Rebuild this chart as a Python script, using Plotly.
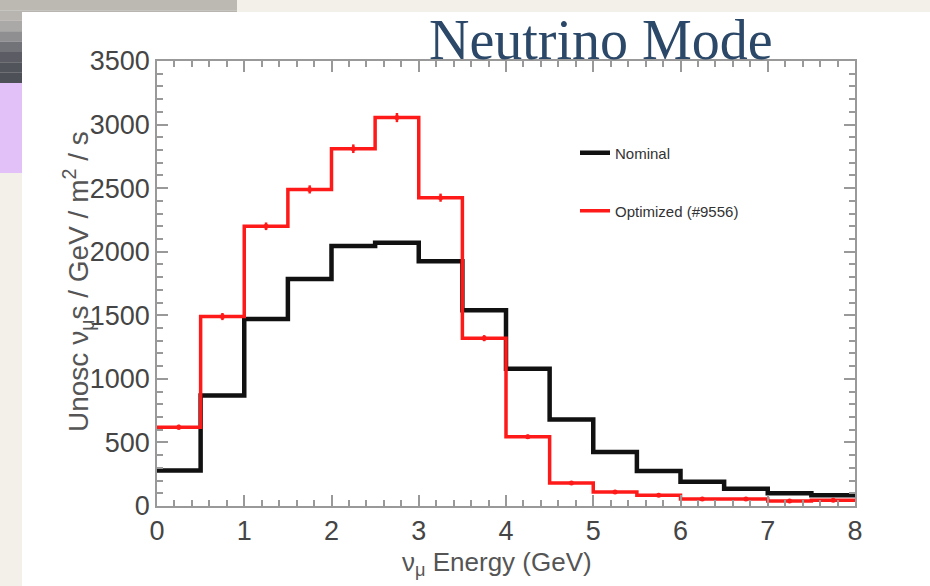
import plotly.graph_objects as go

# ---- data ----
bin_edges = [0, 0.5, 1, 1.5, 2, 2.5, 3, 3.5, 4, 4.5, 5, 5.5, 6, 6.5, 7, 7.5, 8]
nominal = [280, 870, 1470, 1785, 2045, 2070, 1925, 1540, 1080, 680, 425, 275, 190, 135, 100, 85]
optimized = [620, 1490, 2200, 2490, 2810, 3055, 2425, 1320, 545, 180, 110, 85, 55, 55, 40, 45]
optimized_err = [20, 28, 30, 32, 34, 36, 32, 24, 16, 10, 8, 7, 6, 6, 5, 5]
y_ticks = [0, 500, 1000, 1500, 2000, 2500, 3000, 3500]
x_ticks = [0, 1, 2, 3, 4, 5, 6, 7, 8]
series_names = ["Nominal", "Optimized (#9556)"]

centers = [(bin_edges[i] + bin_edges[i + 1]) / 2 for i in range(len(nominal))]

# plot area in pixels
L, R, T, B = 157, 855, 61, 506
W, H = 930, 586
def px(x):
    return (x - L) / (R - L)
def py(y):
    return (B - y) / (B - T)

fig = go.Figure()

fig.add_trace(go.Scatter(
    x=bin_edges, y=nominal + [nominal[-1]], mode="lines", line_shape="hv",
    line=dict(color="#111111", width=4.5), name=series_names[0], legend="legend"))
fig.add_trace(go.Scatter(
    x=bin_edges, y=optimized + [optimized[-1]], mode="lines", line_shape="hv",
    line=dict(color="#ff1a1a", width=3.5), name=series_names[1], legend="legend2"))
fig.add_trace(go.Scatter(
    x=centers, y=optimized, mode="markers", showlegend=False,
    marker=dict(color="#ff1a1a", size=5),
    error_y=dict(type="data", array=optimized_err, color="#ff1a1a", thickness=2.5, width=0)))

# background decorations
shapes = []
grad = ["#bcb9b3", "#b8b5b0", "#aaa9a7", "#8f8f91", "#727378", "#5c5d64", "#52545b", "#4e5058"]
n = len(grad)
for i, c in enumerate(grad):
    y0 = i * 83 / n
    y1 = (i + 1) * 83 / n
    shapes.append(dict(type="rect", xref="paper", yref="paper", x0=px(0), x1=px(237),
                       y0=py(y1), y1=py(y0), fillcolor=c, line=dict(width=0), layer="below"))
shapes.append(dict(type="rect", xref="paper", yref="paper", x0=px(0), x1=px(22),
                   y0=py(173), y1=py(83), fillcolor="#e2c0f8", line=dict(width=0), layer="below"))
shapes.append(dict(type="rect", xref="paper", yref="paper", x0=px(22), x1=px(930),
                   y0=py(586), y1=py(12), fillcolor="#ffffff", line=dict(width=0), layer="below"))

annotations = [
    dict(text="Neutrino Mode", xref="paper", yref="paper", x=px(601), y=py(40),
         showarrow=False, font=dict(family="Liberation Serif", size=56, color="#2b4868"),
         xanchor="center", yanchor="middle"),
    dict(text="Unosc ν<sub>μ</sub>s / GeV / m<sup>2</sup> / s", xref="paper", yref="paper",
         x=px(78), y=py(282), showarrow=False, textangle=-90,
         font=dict(family="Liberation Sans", size=28, color="#555555"),
         xanchor="center", yanchor="middle"),
    dict(text="ν<sub>μ</sub> Energy (GeV)", xref="paper", yref="paper",
         x=px(497), y=py(563), showarrow=False,
         font=dict(family="Liberation Sans", size=26, color="#555555"),
         xanchor="center", yanchor="middle"),
]

axis_common = dict(showgrid=False, zeroline=False, showline=True, linecolor="#999999",
                   linewidth=1.5, mirror="ticks", ticks="inside", tickcolor="#999999",
                   tickwidth=1.5, ticklen=11,
                   tickfont=dict(family="Liberation Sans", size=27, color="#454545"))

fig.update_layout(
    width=W, height=H,
    margin=dict(l=L, r=W - R, t=T, b=H - B),
    paper_bgcolor="#f3f0ea", plot_bgcolor="rgba(0,0,0,0)",
    shapes=shapes, annotations=annotations,
    xaxis=dict(range=[0, 8], tickvals=x_ticks, ticktext=[str(v) for v in x_ticks],
               minor=dict(dtick=0.2, ticks="inside", ticklen=6, tickcolor="#999999", tickwidth=1.5),
               **axis_common),
    yaxis=dict(range=[0, 3500], tickvals=y_ticks, ticktext=[str(v) for v in y_ticks],
               minor=dict(dtick=100, ticks="inside", ticklen=6, tickcolor="#999999", tickwidth=1.5),
               **axis_common),
    legend=dict(x=px(575), y=py(153), xanchor="left", yanchor="middle", bgcolor="rgba(0,0,0,0)",
                font=dict(family="Liberation Sans", size=15, color="#333333")),
    legend2=dict(x=px(575), y=py(211), xanchor="left", yanchor="middle", bgcolor="rgba(0,0,0,0)",
                 font=dict(family="Liberation Sans", size=15, color="#333333")),
)

fig.write_html("out.html", config={"displayModeBar": False},
               post_script="document.body.style.margin='0';document.body.style.padding='0';")
